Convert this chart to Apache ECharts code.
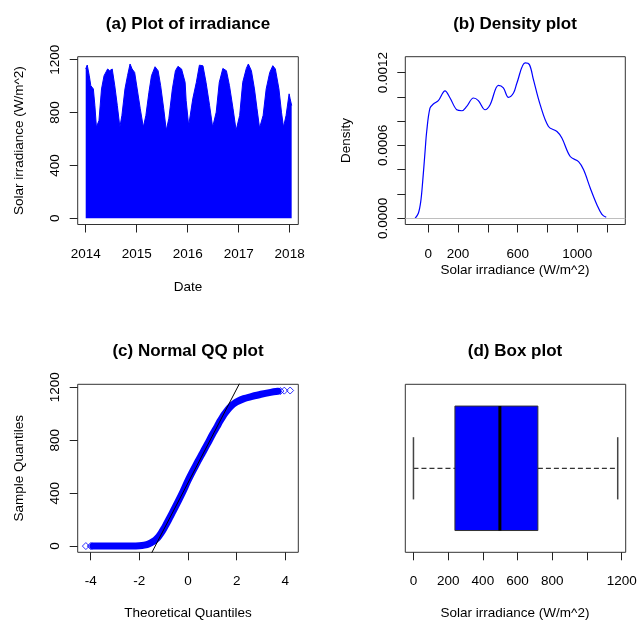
<!DOCTYPE html>
<html>
<head>
<meta charset="utf-8">
<script src="https://cdn.jsdelivr.net/npm/echarts@6/dist/echarts.min.js"></script>
<style>
  html, body { margin: 0; padding: 0; background: #fff; }
  #chart { width: 637px; height: 622px; }
</style>
</head>
<body>
<div id="chart"></div>
<script>
// ---------------- DATA ----------------
// (a) upper envelope of the hourly irradiance series (decimal year, W/m^2)
const irrYear = [2014.00, 2014.03, 2014.07, 2014.10, 2014.15, 2014.18, 2014.21, 2014.26, 2014.31, 2014.36,
  2014.43, 2014.47, 2014.52, 2014.57, 2014.62, 2014.67, 2014.71, 2014.77, 2014.82, 2014.87,
  2014.91, 2014.96, 2015.01, 2015.07, 2015.13, 2015.18, 2015.24, 2015.29, 2015.36, 2015.42,
  2015.47, 2015.53, 2015.58, 2015.63, 2015.70, 2015.76, 2015.81, 2015.88, 2015.95, 2015.97,
  2016.02, 2016.10, 2016.17, 2016.23, 2016.30, 2016.36, 2016.43, 2016.49, 2016.56, 2016.62,
  2016.69, 2016.76, 2016.82, 2016.89, 2016.95, 2017.02, 2017.08, 2017.15, 2017.19, 2017.25,
  2017.31, 2017.36, 2017.41, 2017.48, 2017.54, 2017.61, 2017.67, 2017.72, 2017.79, 2017.84,
  2017.88, 2017.93, 2017.99, 2018.01, 2018.04];
const irrMax = [1130, 1160, 1079, 1004, 979, 853, 690, 740, 979, 1079,
  1130, 1117, 1130, 1004, 853, 690, 778, 979, 1079, 1168,
  1130, 1104, 979, 829, 690, 778, 954, 1079, 1147, 1117,
  1004, 829, 666, 753, 979, 1117, 1150, 1130, 1029, 892,
  702, 904, 1029, 1159, 1154, 1029, 853, 690, 803, 1029,
  1134, 1117, 1004, 829, 666, 778, 1029, 1134, 1168, 1117,
  979, 829, 683, 778, 979, 1104, 1155, 1130, 979, 803,
  690, 778, 942, 904, 853];
const irrYearTicks = [2014, 2015, 2016, 2017, 2018];
const irrValueTicks = [0, 400, 800, 1200];

// (b) kernel density of irradiance
const densX = [-89, -67, -51, -38, -22, -11, 11, 34, 67, 112, 146, 191, 225, 258, 303, 336, 381, 415,
  471, 504, 538, 572, 595, 650, 679, 706, 751, 807, 864, 897, 953, 1009, 1043, 1088, 1133, 1166, 1195];
const densY = [0, 0.0000413, 0.000137, 0.000302, 0.00055, 0.000715, 0.000908, 0.000941, 0.000969,
  0.00105, 0.000991, 0.000894, 0.000886, 0.000922, 0.000991, 0.000969, 0.000894, 0.000936,
  0.001095, 0.001074, 0.000996, 0.001032, 0.001115, 0.00128, 0.001266, 0.001142, 0.000936,
  0.000756, 0.000715, 0.000661, 0.000509, 0.000467, 0.000399, 0.000248, 0.00011, 0.000033, 0.000008];
const densXTicks = [0, 200, 400, 600, 800, 1000, 1200];
const densXLabels = [0, 200, 600, 1000];
const densYTicks = [0, 0.0002, 0.0004, 0.0006, 0.0008, 0.0010, 0.0012];
const densYLabels = [0, 0.0006, 0.0012];

// (c) normal QQ plot (theoretical quantile, sample quantile)
const qqTheo = [-3.9, -3.0, -2.3, -2.0, -1.8, -1.6, -1.4, -1.3, -1.2, -1.1, -1.0, -0.9, -0.8, -0.7,
  -0.6, -0.4, -0.2, 0.0, 0.2, 0.4, 0.6, 0.8, 1.0, 1.2, 1.3, 1.4, 1.5, 1.6, 1.7, 1.8, 1.9, 2.0,
  2.3, 2.6, 3.0, 3.4, 3.7];
const qqSample = [0, 0, 0, 2, 7, 18, 38, 53, 74, 100, 130, 163, 197, 232,
  268, 340, 415, 495, 568, 638, 705, 772, 842, 905, 940, 970, 998, 1022, 1045, 1063, 1078, 1090,
  1115, 1130, 1148, 1162, 1170];
const qqTailTheo = [-4.2, -4.0, -3.95, 3.8, 3.96, 4.2];
const qqTailSample = [0, 0, 0, 1172, 1175, 1176];
const qqLineTheo = [-1.6, 2.2];
const qqLineSample = [-89, 1258];
const qqXTicks = [-4, -2, 0, 2, 4];
const qqYTicks = [0, 400, 800, 1200];

// (d) box plot: [min, Q1, median, Q3, max]
const boxStats = [0, 239, 498, 717, 1177];
const boxXTicks = [0, 200, 400, 600, 800, 1000, 1200];
const boxXLabels = [0, 200, 400, 600, 800, 1200];

// ---------------- CHART ----------------
const FONT = "'Liberation Sans', Arial, Helvetica, sans-serif";
const chart = echarts.init(document.getElementById('chart'), null, { renderer: 'canvas' });

const gridStyle = { show: true, borderColor: '#333', borderWidth: 1, backgroundColor: 'transparent',
  containLabel: false, outerBoundsMode: 'none' };

function xAx(gi, min, max, ticks, labels, margin, fmt) {
  return {
    type: 'value', gridIndex: gi, min: min, max: max, position: 'bottom',
    axisLine: { show: false, onZero: false }, splitLine: { show: false },
    axisTick: { show: true, inside: false, length: 8, lineStyle: { color: '#222', width: 1 }, customValues: ticks },
    axisLabel: { show: true, margin: margin, customValues: labels, formatter: fmt || (v => String(v)),
      color: '#000', fontSize: 13.5, fontFamily: FONT }
  };
}
function yAx(gi, min, max, ticks, labels, fmt) {
  return {
    type: 'value', gridIndex: gi, min: min, max: max, position: 'left',
    axisLine: { show: false, onZero: false }, splitLine: { show: false },
    axisTick: { show: true, inside: false, length: 8, lineStyle: { color: '#222', width: 1 }, customValues: ticks },
    axisLabel: { show: true, margin: 15.5, rotate: 90, customValues: labels, formatter: fmt || (v => String(v)),
      color: '#000', fontSize: 13.5, fontFamily: FONT }
  };
}

function txt(x, y, text, bold, rot) {
  return {
    type: 'text', x: x, y: y, rotation: rot ? Math.PI / 2 : 0, silent: true,
    style: { text: text, textAlign: 'center', textVerticalAlign: 'middle', fill: '#000',
      font: (bold ? 'bold 17px ' : '13.5px ') + FONT }
  };
}

const pairs = (xs, ys) => xs.map((x, i) => [x, ys[i]]);

const option = {
  animation: false,
  backgroundColor: '#fff',
  grid: [
    Object.assign({ left: 77.7, top: 56.7, width: 220.6, height: 167.8 }, gridStyle),
    Object.assign({ left: 405.3, top: 56.7, width: 220, height: 167.8 }, gridStyle),
    Object.assign({ left: 77.7, top: 384.3, width: 220.6, height: 168 }, gridStyle),
    Object.assign({ left: 405.3, top: 384.3, width: 220.4, height: 168 }, gridStyle)
  ],
  xAxis: [
    xAx(0, 2013.843, 2018.17, irrYearTicks, irrYearTicks, 23),
    xAx(1, -154.7, 1323, densXTicks, densXLabels, 23),
    xAx(2, -4.536, 4.536, qqXTicks, qqXTicks, 21.5),
    xAx(3, -47.04, 1223.04, boxXTicks, boxXLabels, 21.5)
  ],
  yAxis: [
    yAx(0, -47.04, 1223.04, irrValueTicks, irrValueTicks),
    yAx(1, -0.0000512, 0.0013312, densYTicks, densYLabels, v => Number(v).toFixed(4)),
    yAx(2, -47.04, 1223.04, qqYTicks, qqYTicks),
    { type: 'value', gridIndex: 3, min: 0.46, max: 1.54, show: false }
  ],
  graphic: [
    txt(188, 24, '(a) Plot of irradiance', true),
    txt(515, 24, '(b) Density plot', true),
    txt(188, 351.7, '(c) Normal QQ plot', true),
    txt(515, 351.7, '(d) Box plot', true),
    txt(188, 287, 'Date'),
    txt(515, 270, 'Solar irradiance (W/m^2)'),
    txt(188, 613.3, 'Theoretical Quantiles'),
    txt(515, 613.3, 'Solar irradiance (W/m^2)'),
    txt(19, 140.6, 'Solar irradiance (W/m^2)', false, true),
    txt(346.7, 140.6, 'Density', false, true),
    txt(19, 468.3, 'Sample Quantiles', false, true)
  ],
  series: [
    {
      type: 'line', xAxisIndex: 0, yAxisIndex: 0, data: pairs(irrYear, irrMax),
      symbol: 'none', lineStyle: { color: '#0000FF', width: 1 },
      areaStyle: { color: '#0000FF', opacity: 1 }, silent: true
    },
    {
      type: 'line', xAxisIndex: 1, yAxisIndex: 1, data: pairs(densX, densY),
      symbol: 'none', smooth: 0.35, lineStyle: { color: '#0000FF', width: 1.2 }, silent: true, z: 3,
      markLine: { silent: true, symbol: ['none', 'none'], label: { show: false },
        lineStyle: { color: '#bebebe', type: 'solid', width: 1.2 }, data: [{ yAxis: 0 }] }
    },
    {
      type: 'line', xAxisIndex: 2, yAxisIndex: 2, data: pairs(qqTheo, qqSample),
      symbol: 'none', smooth: 0.3, lineStyle: { color: '#0000FF', width: 7, cap: 'round', join: 'round' }, silent: true
    },
    {
      type: 'scatter', xAxisIndex: 2, yAxisIndex: 2, data: pairs(qqTailTheo, qqTailSample),
      symbol: 'diamond', symbolSize: 7,
      itemStyle: { color: 'rgba(255,255,255,0)', borderColor: '#0000FF', borderWidth: 1 }, silent: true
    },
    {
      type: 'line', xAxisIndex: 2, yAxisIndex: 2, data: pairs(qqLineTheo, qqLineSample),
      symbol: 'none', lineStyle: { color: '#000', width: 1 }, clip: true, silent: true, z: 5
    },
    {
      type: 'custom', xAxisIndex: 3, yAxisIndex: 3, silent: true,
      data: [[1].concat(boxStats)],
      renderItem: function (params, api) {
        const pos = api.value(0);
        const mn = api.value(1), q1 = api.value(2), md = api.value(3), q3 = api.value(4), mx = api.value(5);
        const c = (x, y) => api.coord([x, y]);
        const hw = 0.4, cw = 0.2;
        const pMin = c(mn, pos), pQ1 = c(q1, pos), pQ3 = c(q3, pos), pMax = c(mx, pos);
        const top = c(q1, pos + hw)[1], bottom = c(q1, pos - hw)[1];
        const capTop = c(mn, pos + cw)[1], capBot = c(mn, pos - cw)[1];
        const whisk = { stroke: '#333', lineWidth: 1.3, lineDash: [5, 3] };
        const cap = { stroke: '#444', lineWidth: 1.5 };
        return {
          type: 'group',
          children: [
            { type: 'line', shape: { x1: pMin[0], y1: pMin[1], x2: pQ1[0], y2: pQ1[1] }, style: whisk },
            { type: 'line', shape: { x1: pQ3[0], y1: pQ3[1], x2: pMax[0], y2: pMax[1] }, style: whisk },
            { type: 'line', shape: { x1: pMin[0], y1: capTop, x2: pMin[0], y2: capBot }, style: cap },
            { type: 'line', shape: { x1: pMax[0], y1: capTop, x2: pMax[0], y2: capBot }, style: cap },
            { type: 'rect', shape: { x: pQ1[0], y: top, width: pQ3[0] - pQ1[0], height: bottom - top },
              style: { fill: '#0000FF', stroke: '#333', lineWidth: 1 } },
            { type: 'line', shape: { x1: c(md, pos)[0], y1: top, x2: c(md, pos)[0], y2: bottom },
              style: { stroke: '#000', lineWidth: 3 } }
          ]
        };
      }
    }
  ]
};
chart.setOption(option);
</script>
</body>
</html>
